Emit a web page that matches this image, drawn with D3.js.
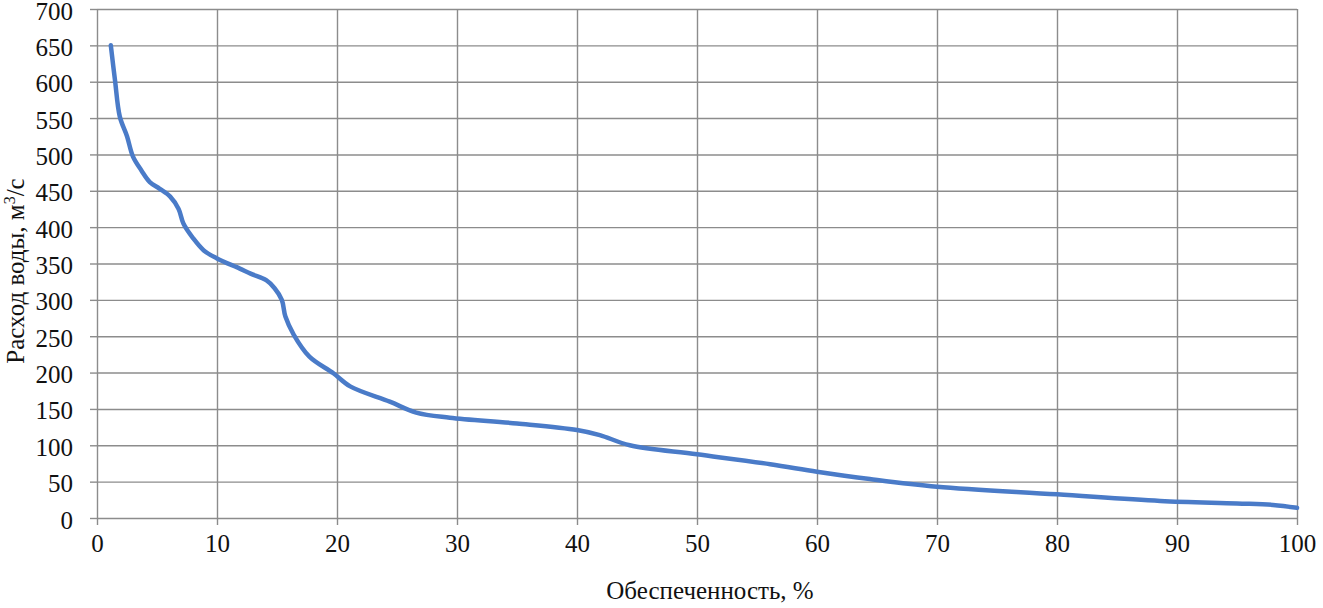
<!DOCTYPE html>
<html>
  <body style="margin:0;background:#fff;">
    <style>
      svg text { font-family: "Liberation Serif", "Times New Roman", serif !important; fill: #111; }
      .grid line { stroke: #8c8c8c; stroke-width: 1.4; }
      .axis path { display: none; }
      .axis line { stroke: #8c8c8c; stroke-width: 1.4; }
    </style>
    <script src="https://cdn.jsdelivr.net/npm/d3@7"></script>
    <script type="text/javascript">
      // Кривая обеспеченности расходов воды
      const supply = [1.15, 1.5, 1.9, 2.5, 3.0, 3.7, 4.4, 5.2, 6.1, 6.8, 7.2, 8.0, 8.9, 10.0, 11.9,
        12.8, 14.1, 14.8, 15.4, 15.7, 16.4, 17.7, 19.7, 21.1, 24.4, 26.6, 29.4, 35, 40, 41.9,
        44.4, 50, 56.1, 60, 64.4, 70, 80, 88.6, 95, 98, 100];
      const discharge = [650, 602, 552, 525, 497, 478, 462, 453, 442, 425, 405, 385, 368, 357, 343,
        336, 327, 316, 300, 277, 252, 222, 199, 181, 160, 145, 138, 130, 121, 114,
        100, 87.6, 74, 63.7, 53.6, 43, 32.5, 23.4, 20, 18, 14];
      const xTicks = [0, 10, 20, 30, 40, 50, 60, 70, 80, 90, 100];
      const yTicks = [0, 50, 100, 150, 200, 250, 300, 350, 400, 450, 500, 550, 600, 650, 700];

      const width = 1323, height = 608;
      const plotLeft = 97, plotRight = 1297, plotTop = 9, plotBottom = 518;
      const serif = '"Liberation Serif", "Times New Roman", serif';

      const svg = d3.select('body').append('svg')
        .attr('width', width)
        .attr('height', height);

      const x = d3.scaleLinear().domain([0, 100]).range([plotLeft, plotRight]);
      const y = d3.scaleLinear().domain([0, 700]).range([plotBottom, plotTop]);

      // horizontal grid + ticks
      svg.append('g')
        .attr('class', 'axis grid')
        .attr('transform', `translate(${plotLeft},0)`)
        .call(d3.axisLeft(y).tickValues(yTicks).tickSizeInner(-(plotRight - plotLeft)).tickSizeOuter(0).tickFormat(''));
      svg.append('g')
        .attr('class', 'axis')
        .attr('transform', `translate(${plotLeft},0)`)
        .call(d3.axisLeft(y).tickValues(yTicks).tickSize(7).tickPadding(17))
        .call(g => g.attr('font-family', serif).attr('font-size', 25))
        .call(g => g.selectAll('text').attr('dy', '0.4em'));

      // vertical grid + ticks
      svg.append('g')
        .attr('class', 'axis grid')
        .attr('transform', `translate(0,${plotBottom})`)
        .call(d3.axisBottom(x).tickValues(xTicks).tickSizeInner(-(plotBottom - plotTop)).tickSizeOuter(0).tickFormat(''));
      svg.append('g')
        .attr('class', 'axis')
        .attr('transform', `translate(0,${plotBottom})`)
        .call(d3.axisBottom(x).tickValues(xTicks).tickSize(7).tickPadding(9))
        .call(g => g.attr('font-family', serif).attr('font-size', 25));

      const pts = supply.map((d, i) => [d, discharge[i]]);
      const line = d3.line()
        .x(d => x(d[0]))
        .y(d => y(d[1]))
        .curve(d3.curveCatmullRom.alpha(0.5));

      svg.append('path')
        .datum(pts)
        .attr('d', line)
        .attr('fill', 'none')
        .attr('stroke', '#4a7bc8')
        .attr('stroke-width', 4.5)
        .attr('stroke-linejoin', 'round')
        .attr('stroke-linecap', 'round');

      // axis titles
      svg.append('text')
        .attr('x', 710)
        .attr('y', 599)
        .attr('text-anchor', 'middle')
        .style('font-size', '25px')
        .text('Обеспеченность, %');

      const yt = svg.append('text')
        .attr('transform', 'translate(24,271) rotate(-90)')
        .attr('text-anchor', 'middle')
        .style('font-size', '25px');
      yt.append('tspan').text('Расход воды, м');
      yt.append('tspan').attr('dy', -9).style('font-size', '16px').text('3');
      yt.append('tspan').attr('dy', 9).text('/с');
    </script>
  </body>
</html>
